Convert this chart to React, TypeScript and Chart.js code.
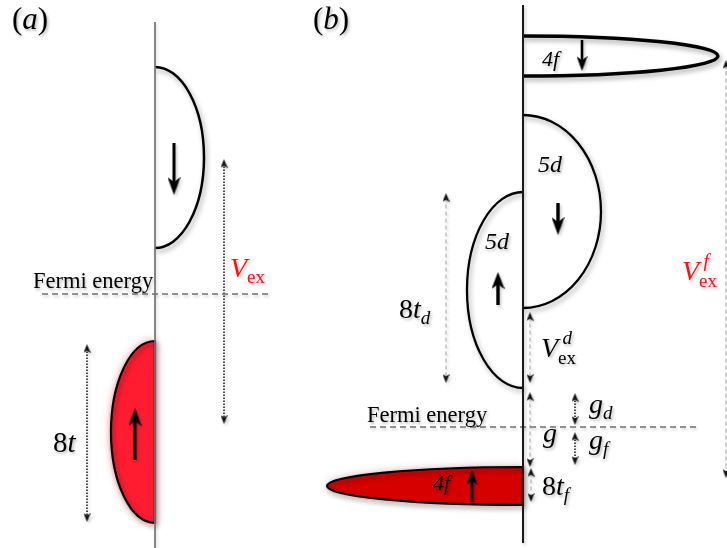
import React, { useEffect, useRef } from "react";
import { Chart, registerables } from "chart.js";

Chart.register(...registerables);

const W = 727;
const H = 548;

// ---------- data (diagram units: x to the right, y downward) ----------
// energy axes of the two panels
const axisXs = [155, 523];
const axisTops = [22, 5];
const axisBottoms = [548, 543];

// Fermi levels
const fermiYs = [294, 427];
const fermiStarts = [42, 370];
const fermiEnds = [268, 698];

// bands (half ellipses hanging on the axis): (a)down, (a)up, 4f down, 5d down, 5d up, 4f up
const bandAxis = [155, 155, 523, 523, 523, 523];
const bandTops = [67, 341, 36, 115, 192, 467];
const bandBottoms = [248, 523, 76, 308, 388, 505];
const bandReach = [204, 111, 718, 601, 467, 327];

// spin arrows inside the bands
const spinXs = [174, 135, 582, 558, 498, 472];
const spinTails = [143, 460, 40, 203, 305, 502];
const spinTips = [195, 408, 71, 235, 272, 470];

// double-headed markers: Vex, 8t, 8td, Vexd, Vexf, g, gd, gf, 8tf
const gapXs = [224, 87, 446, 530, 726, 530, 575, 575, 531];
const gapTops = [159, 344, 193, 312, 60, 392, 393, 432, 468];
const gapBottoms = [424, 522, 383, 383, 478, 467, 425, 465, 502];

// text labels
type Run = [string, string];
const labelRuns: Run[][] = [
  [["(", "rm"], ["a", "it"], [")", "rm"]],
  [["(", "rm"], ["b", "it"], [")", "rm"]],
  [["Fermi energy", "rm"]],
  [["Fermi energy", "rm"]],
  [["V", "it"], ["ex", "sub"]],
  [["8", "rm"], ["t", "it"]],
  [["4f", "it"]],
  [["5d", "it"]],
  [["5d", "it"]],
  [["8", "rm"], ["t", "it"], ["d", "subIt"]],
  [["V", "it"], ["d|ex", "stack"]],
  [["V", "it"], ["f|ex", "stack"]],
  [["g", "it"]],
  [["g", "it"], ["d", "subIt"]],
  [["g", "it"], ["f", "subIt"]],
  [["4f", "it"]],
  [["8", "rm"], ["t", "it"], ["f", "subIt"]],
];
const labelXs = [12, 313, 33, 367, 230, 53, 542, 538, 485, 399, 541, 682, 543, 589, 589, 433, 542];
const labelYs = [29, 29, 288, 422, 277, 452, 66, 172, 249, 318, 357, 280, 442, 413, 449, 490, 495];

// ---------- styles ----------
const FONT = '"Liberation Serif", "DejaVu Serif", serif';
const RED_A = "rgb(255,28,48)";
const RED_B = "rgb(214,0,0)";
const bandFills = [null, RED_A, null, null, null, RED_B];
const bandWidths = [2.5, 2.2, 3.5, 2.3, 2.3, 2.2];
const axisColors = ["#777777", "#1a1a1a"];
const axisWidths = [1, 2];
const spinHeadW = [13, 13, 11, 13, 13, 11];
const spinHeadL = [18, 18, 15, 18, 17, 15];
const spinWidths = [3, 3, 2.6, 3.4, 3.4, 2.8];
const gapStyles = ["dot", "dot", "dash", "dash", "dash", "dash", "dot", "dot", "dash"];
const labelSizes = [31, 31, 22.5, 22.5, 28, 29, 22, 24, 24, 28, 28, 28, 28, 28, 28, 22, 28];
const labelColors = [
  "#000", "#000", "#000", "#000", "#ff1010", "#000", "#000", "#000", "#000",
  "#000", "#000", "#ff1010", "#000", "#000", "#000", "#000", "#000",
];

function setShadow(ctx: CanvasRenderingContext2D, color: string, blur: number, dx: number, dy: number) {
  ctx.shadowColor = color;
  ctx.shadowBlur = blur;
  ctx.shadowOffsetX = dx;
  ctx.shadowOffsetY = dy;
}

// arrow head sprite (pointing up), used as a Chart.js pointStyle
function makeHead(w: number, h: number, color: string) {
  const c = document.createElement("canvas");
  c.width = w;
  c.height = h;
  const g = c.getContext("2d")!;
  g.fillStyle = color;
  g.beginPath();
  g.moveTo(w / 2, 0);
  g.lineTo(w, h);
  g.quadraticCurveTo(w / 2, h * 0.72, w / 2, h * 0.72);
  g.lineTo(0, h);
  g.closePath();
  g.fill();
  return c;
}

function drawLabel(ctx: CanvasRenderingContext2D, x0: number, y0: number, runs: Run[], size: number, color: string) {
  let x = x0;
  const small = size * 0.68;
  ctx.fillStyle = color;
  ctx.textBaseline = "alphabetic";
  ctx.textAlign = "left";
  for (const [text, kind] of runs) {
    if (kind === "rm" || kind === "it") {
      ctx.font = `${kind === "it" ? "italic " : ""}${size}px ${FONT}`;
      ctx.fillText(text, x, y0);
      x += ctx.measureText(text).width;
    } else if (kind === "sub" || kind === "subIt") {
      ctx.font = `${kind === "subIt" ? "italic " : ""}${small}px ${FONT}`;
      ctx.fillText(text, x, y0 + size * 0.2);
      x += ctx.measureText(text).width;
    } else if (kind === "stack") {
      const [sup, sub] = text.split("|");
      ctx.font = `italic ${small}px ${FONT}`;
      ctx.fillText(sup, x + size * 0.16, y0 - size * 0.45);
      const w1 = ctx.measureText(sup).width + size * 0.16;
      ctx.font = `${small}px ${FONT}`;
      ctx.fillText(sub, x, y0 + size * 0.25);
      const w2 = ctx.measureText(sub).width;
      x += Math.max(w1, w2);
    }
  }
}

const diagramPlugin = {
  id: "diagram",
  beforeDatasetsDraw(chart: any) {
    const { ctx } = chart;
    const xs = chart.scales.x;
    const ys = chart.scales.y;
    bandAxis.forEach((ax, i) => {
      const cx = xs.getPixelForValue(ax);
      const top = ys.getPixelForValue(bandTops[i]);
      const bot = ys.getPixelForValue(bandBottoms[i]);
      const reach = xs.getPixelForValue(bandReach[i]);
      const rx = Math.abs(reach - cx);
      const ry = Math.abs(bot - top) / 2;
      const cy = (top + bot) / 2;
      const right = reach > cx;
      ctx.save();
      ctx.beginPath();
      if (right) ctx.ellipse(cx, cy, rx, ry, 0, -Math.PI / 2, Math.PI / 2, false);
      else ctx.ellipse(cx, cy, rx, ry, 0, Math.PI / 2, (3 * Math.PI) / 2, false);
      const fill = bandFills[i];
      if (fill) {
        ctx.closePath();
        setShadow(ctx, i === 1 ? "rgba(230,0,20,0.55)" : "rgba(120,0,0,0.35)", 8, 0, 0);
        ctx.fillStyle = fill;
        ctx.fill();
      }
      setShadow(ctx, "rgba(0,0,0,0.35)", 5, 2, 3);
      ctx.lineWidth = bandWidths[i];
      ctx.strokeStyle = "#000";
      ctx.stroke();
      ctx.restore();
    });
    ctx.save();
    setShadow(ctx, "rgba(0,0,0,0.22)", 3, 1.5, 2);
  },
  afterDatasetsDraw(chart: any) {
    const { ctx } = chart;
    ctx.restore();
    const xs = chart.scales.x;
    const ys = chart.scales.y;
    labelRuns.forEach((runs, i) => {
      ctx.save();
      setShadow(ctx, "rgba(0,0,0,0.28)", 3, 1.5, 2);
      drawLabel(ctx, xs.getPixelForValue(labelXs[i]), ys.getPixelForValue(labelYs[i]), runs, labelSizes[i], labelColors[i]);
      ctx.restore();
    });
  },
};

function buildDatasets() {
  const ds: any[] = [];
  const base = {
    showLine: true,
    fill: false,
    tension: 0,
    clip: false,
    pointRadius: 0,
    pointHoverRadius: 0,
  };
  axisXs.forEach((x, i) => {
    ds.push({
      ...base,
      data: [{ x, y: axisTops[i] }, { x, y: axisBottoms[i] }],
      borderColor: axisColors[i],
      borderWidth: axisWidths[i],
    });
  });
  fermiYs.forEach((y, i) => {
    ds.push({
      ...base,
      data: [{ x: fermiStarts[i], y }, { x: fermiEnds[i], y }],
      borderColor: "#707070",
      borderWidth: 1.3,
      borderDash: [6, 4],
    });
  });
  const gapHead = makeHead(7, 9, "#111");
  gapXs.forEach((x, i) => {
    const hl = 9;
    const dot = gapStyles[i] === "dot";
    ds.push({
      ...base,
      data: [{ x, y: gapTops[i] + hl / 2 }, { x, y: gapBottoms[i] - hl / 2 }],
      borderColor: dot ? "#222" : "#a8a8a8",
      borderWidth: dot ? 1.6 : 1.1,
      borderDash: dot ? [1.6, 1.4] : [4, 3],
      pointStyle: gapHead,
      pointRadius: 4,
      pointRotation: [0, 180],
    });
  });
  spinXs.forEach((x, i) => {
    const hl = spinHeadL[i];
    const down = spinTips[i] > spinTails[i];
    const headCenter = down ? spinTips[i] - hl / 2 : spinTips[i] + hl / 2;
    ds.push({
      ...base,
      data: [{ x, y: spinTails[i] }, { x, y: headCenter }],
      borderColor: "#000",
      borderWidth: spinWidths[i],
      pointStyle: makeHead(spinHeadW[i], hl, "#000"),
      pointRadius: [0, 6],
      pointRotation: [0, down ? 180 : 0],
    });
  });
  return ds;
}

export default function App() {
  const ref = useRef<HTMLCanvasElement | null>(null);
  useEffect(() => {
    if (!ref.current) return;
    const chart = new Chart(ref.current, {
      type: "scatter",
      data: { datasets: buildDatasets() },
      options: {
        animation: false,
        responsive: false,
        maintainAspectRatio: false,
        events: [],
        layout: { padding: 0, autoPadding: false },
        scales: {
          x: { type: "linear", min: 0, max: W, display: false },
          y: { type: "linear", min: 0, max: H, reverse: true, display: false },
        },
        plugins: { legend: { display: false }, tooltip: { enabled: false } },
      } as any,
      plugins: [diagramPlugin as any],
    });
    return () => chart.destroy();
  }, []);
  return (
    <div style={{ position: "fixed", left: 0, top: 0, width: W, height: H, background: "#fff" }}>
      <canvas ref={ref} width={W} height={H} style={{ width: W, height: H, display: "block" }} />
    </div>
  );
}
